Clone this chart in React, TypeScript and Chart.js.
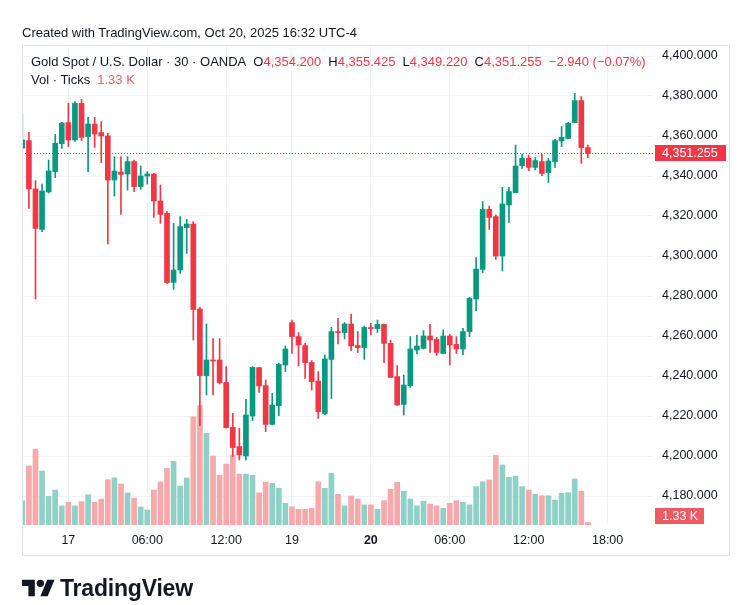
import React, { useEffect, useRef } from 'react';
import { Chart, registerables } from 'chart.js';

Chart.register(...registerables);

// ---- data (30-minute candles, XAU/USD, OANDA) ----
const opens = [
  4354.0, 4357.7, 4333.5, 4313.3, 4332.0, 4342.2, 4356.2, 4366.7, 4358.0, 4376.3,
  4359.7, 4366.0, 4361.7, 4360.0, 4338.0, 4342.0, 4341.0, 4347.2, 4334.7, 4340.0,
  4341.0, 4327.5, 4321.3, 4286.8, 4293.0, 4314.2, 4316.0, 4273.5, 4240.2, 4248.0,
  4248.0, 4236.8, 4214.3, 4204.7, 4200.0, 4220.0, 4244.2, 4235.2, 4215.8, 4225.2,
  4245.5, 4266.7, 4259.7, 4255.2, 4246.8, 4237.5, 4221.3, 4248.3, 4262.2, 4261.7,
  4266.0, 4255.2, 4254.2, 4264.0, 4263.7, 4265.8, 4256.3, 4239.7, 4225.8, 4235.2,
  4253.0, 4253.8, 4260.0, 4258.3, 4251.3, 4260.0, 4255.8, 4253.5, 4262.2, 4278.5,
  4293.3, 4323.3, 4319.7, 4300.0, 4325.5, 4331.7, 4345.2, 4348.8, 4344.3, 4347.2,
  4341.7, 4347.2, 4357.5, 4358.8, 4366.7, 4377.7, 4354.2,
];
const highs = [
  4371.5, 4361.8, 4337.7, 4336.0, 4348.0, 4360.8, 4366.8, 4376.3, 4377.2, 4378.3,
  4369.3, 4369.3, 4367.2, 4361.3, 4349.7, 4349.7, 4349.7, 4348.0, 4345.0, 4342.2,
  4341.3, 4335.5, 4322.2, 4316.3, 4319.7, 4318.3, 4317.2, 4274.3, 4266.0, 4258.7,
  4258.7, 4244.7, 4221.3, 4213.8, 4228.3, 4244.7, 4244.3, 4238.0, 4231.3, 4246.3,
  4255.0, 4268.0, 4261.7, 4256.3, 4247.7, 4242.2, 4250.5, 4264.3, 4268.8, 4266.7,
  4271.0, 4262.2, 4265.0, 4266.3, 4268.0, 4266.0, 4258.0, 4245.2, 4240.5, 4259.7,
  4260.5, 4262.7, 4265.8, 4259.3, 4263.0, 4260.8, 4259.7, 4263.8, 4279.3, 4299.2,
  4327.2, 4325.0, 4320.5, 4334.3, 4334.3, 4355.5, 4351.0, 4350.5, 4349.2, 4351.0,
  4348.8, 4358.3, 4364.7, 4366.8, 4381.3, 4379.7, 4355.425,
];
const lows = [
  4353.5, 4323.8, 4278.5, 4312.2, 4331.5, 4339.2, 4353.8, 4354.7, 4357.3, 4357.7,
  4342.2, 4354.3, 4346.7, 4306.0, 4330.0, 4320.8, 4333.0, 4332.2, 4333.3, 4336.0,
  4319.3, 4316.3, 4286.3, 4283.3, 4291.3, 4301.3, 4258.0, 4215.2, 4230.5, 4230.5,
  4236.0, 4214.0, 4199.7, 4198.0, 4198.0, 4217.7, 4231.8, 4212.2, 4215.5, 4220.2,
  4242.2, 4251.3, 4245.0, 4238.8, 4233.0, 4218.8, 4220.5, 4228.8, 4256.0, 4258.5,
  4252.7, 4251.7, 4248.3, 4260.5, 4261.8, 4246.7, 4239.3, 4225.3, 4220.5, 4234.3,
  4251.0, 4253.5, 4251.8, 4250.2, 4251.3, 4245.5, 4251.3, 4250.5, 4259.7, 4272.7,
  4291.7, 4313.3, 4298.3, 4292.5, 4316.8, 4331.7, 4343.8, 4342.7, 4343.0, 4340.2,
  4336.8, 4344.3, 4354.7, 4358.5, 4366.7, 4346.3, 4349.22,
];
const closes = [
  4358.0, 4333.5, 4313.8, 4332.5, 4342.5, 4356.3, 4366.5, 4358.0, 4376.3, 4359.3,
  4366.0, 4361.0, 4360.0, 4338.0, 4342.5, 4340.8, 4347.2, 4334.7, 4340.0, 4341.0,
  4327.5, 4320.8, 4286.7, 4293.0, 4314.7, 4316.0, 4273.3, 4240.2, 4248.0, 4247.5,
  4236.7, 4214.2, 4204.2, 4200.5, 4220.5, 4244.3, 4235.0, 4215.8, 4225.5, 4245.8,
  4253.5, 4259.7, 4255.5, 4246.7, 4237.2, 4222.2, 4248.5, 4262.2, 4261.7, 4266.0,
  4255.0, 4254.2, 4264.3, 4263.7, 4265.8, 4256.3, 4239.3, 4225.5, 4235.5, 4253.5,
  4255.0, 4260.0, 4258.0, 4251.8, 4260.0, 4255.5, 4253.5, 4262.2, 4278.8, 4293.5,
  4323.3, 4319.3, 4300.0, 4326.0, 4332.2, 4345.0, 4348.8, 4344.3, 4347.7, 4341.3,
  4347.5, 4357.7, 4359.3, 4366.3, 4377.7, 4354.2, 4351.255,
];
// tick volume in thousands
const volumes = [
  12.0, 29.1, 37.3, 26.6, 14.1, 17.2, 9.4, 11.2, 9.4, 11.5,
  14.9, 11.2, 12.8, 22.3, 23.2, 20.2, 15.8, 13.3, 8.9, 7.4,
  17.2, 21.2, 27.9, 31.4, 19.2, 23.2, 53.3, 58.8, 45.2, 34.0,
  24.5, 30.0, 34.5, 25.1, 25.1, 24.5, 15.8, 21.2, 20.5, 18.1,
  10.7, 9.0, 7.7, 7.7, 8.2, 21.3, 18.1, 25.5, 15.1, 9.4,
  14.3, 12.8, 9.9, 9.9, 7.7, 12.0, 17.6, 21.0, 16.7, 12.8,
  9.4, 11.7, 10.3, 9.4, 8.2, 10.7, 12.0, 11.2, 9.9, 18.9,
  21.3, 22.2, 34.3, 29.6, 23.5, 24.1, 18.9, 17.2, 15.1, 14.4,
  14.4, 12.3, 15.6, 15.9, 22.7, 16.7, 1.33,
];
const xTickIndex = [7, 19, 31, 41, 53, 65, 77, 89];
const xTickLabels = ['17', '06:00', '12:00', '19', '20', '06:00', '12:00', '18:00'];
const boldTickLabel = '20';
const priceTicks = [4180, 4200, 4220, 4240, 4260, 4280, 4300, 4320, 4340, 4360, 4380, 4400];
const lastPrice = 4351.255;
const lastVolumeText = '1.33 K';

const FONT = '"Liberation Sans", Arial, sans-serif';
const TEXT = '#131722';
const UP = '#089981';
const DOWN = '#f23645';
const GRID = '#f0f3fa';

const fmtPrice = (v: number) => {
  const [i, d] = v.toFixed(3).split('.');
  return i.replace(/\B(?=(\d{3})+(?!\d))/g, ',') + '.' + d;
};

export default function App() {
  const ref = useRef<HTMLCanvasElement>(null);

  useEffect(() => {
    if (!ref.current) return;
    const isUp = opens.map((o, i) => closes[i] >= o);
    const candleColors = isUp.map((u) => (u ? UP : DOWN));
    const volColors = isUp.map((u) => (u ? '#8fd1c7' : '#f7a8aa'));

    const overlay = {
      id: 'overlay',
      afterDatasetsDraw(chart: any) {
        const { ctx, chartArea } = chart;
        const y = Math.round(chart.scales.y.getPixelForValue(lastPrice)) + 0.5;
        ctx.save();
        ctx.strokeStyle = DOWN;
        ctx.lineWidth = 1;
        ctx.setLineDash([1, 2]);
        ctx.beginPath();
        ctx.moveTo(chartArea.left, y);
        ctx.lineTo(chartArea.right, y);
        ctx.stroke();
        ctx.restore();
      },
      afterDraw(chart: any) {
        const { ctx, chartArea } = chart;
        ctx.save();
        // frame
        ctx.strokeStyle = '#e0e3eb';
        ctx.lineWidth = 1;
        ctx.strokeRect(22.5, 45.5, 707, 510);
        // price label
        const y = chart.scales.y.getPixelForValue(lastPrice);
        ctx.fillStyle = DOWN;
        ctx.fillRect(chartArea.right + 2, Math.round(y) - 8, 71, 16);
        ctx.fillStyle = '#ffffff';
        ctx.font = `12.5px ${FONT}`;
        ctx.textBaseline = 'middle';
        ctx.textAlign = 'left';
        ctx.fillText(fmtPrice(lastPrice), chartArea.right + 9, Math.round(y) + 0.5);
        // volume label
        const vb = chartArea.bottom - 1;
        ctx.fillStyle = '#ef5a62';
        ctx.fillRect(chartArea.right + 2, vb - 16, 49, 16);
        ctx.fillStyle = '#ffffff';
        ctx.fillText(lastVolumeText, chartArea.right + 9, vb - 7.5);
        ctx.restore();
      },
    };

    const chart = new Chart(ref.current, {
      type: 'bar',
      data: {
        datasets: [
          {
            label: 'Volume',
            data: volumes.map((v, i) => ({ x: i, y: v })),
            backgroundColor: volColors,
            yAxisID: 'yv',
            barThickness: 5,
            grouped: false,
            order: 3,
          } as any,
          {
            label: 'Wicks',
            data: lows.map((l, i) => ({ x: i, y: [l, highs[i]] })),
            backgroundColor: candleColors,
            yAxisID: 'y',
            barThickness: 1,
            grouped: false,
            order: 2,
          } as any,
          {
            label: 'Bodies',
            data: opens.map((o, i) => ({ x: i, y: [o, closes[i]] })),
            backgroundColor: candleColors,
            yAxisID: 'y',
            barThickness: 5,
            minBarLength: 1,
            grouped: false,
            order: 1,
          } as any,
        ],
      },
      options: {
        animation: false,
        responsive: false,
        events: [],
        layout: { padding: { left: 22, top: 45, right: 12, bottom: 50 } },
        plugins: { legend: { display: false }, tooltip: { enabled: false } },
        scales: {
          x: {
            type: 'linear',
            min: -0.05,
            max: 95.9,
            offset: false,
            grid: { offset: false, color: GRID, drawTicks: false },
            border: { display: false },
            afterBuildTicks: (s: any) => {
              s.ticks = xTickIndex.map((v) => ({ value: v }));
            },
            afterFit: (s: any) => {
              s.height = 30;
            },
            ticks: {
              autoSkip: false,
              maxRotation: 0,
              padding: 8,
              color: TEXT,
              font: (c: any) => ({
                family: FONT,
                size: 12.5,
                weight: xTickLabels[xTickIndex.indexOf(c.tick?.value)] === boldTickLabel ? 'bold' : 'normal',
              }),
              callback: (v: any) => xTickLabels[xTickIndex.indexOf(Number(v))] ?? '',
            },
          },
          y: {
            type: 'linear',
            position: 'right',
            min: 4165.5,
            max: 4405.5,
            beginAtZero: false,
            grid: { color: GRID, drawTicks: false },
            border: { display: false },
            afterBuildTicks: (s: any) => {
              s.ticks = priceTicks.map((v) => ({ value: v }));
            },
            afterFit: (s: any) => {
              s.width = 76;
            },
            ticks: {
              padding: 9,
              color: TEXT,
              font: { family: FONT, size: 12.5 },
              callback: (v: any) => fmtPrice(Number(v)),
            },
          },
          yv: {
            type: 'linear',
            display: false,
            min: 0,
            max: 236.5,
          },
        },
      } as any,
      plugins: [overlay],
    });
    return () => chart.destroy();
  }, []);

  const red = { color: DOWN };
  return (
    <div
      style={{
        position: 'absolute',
        left: 0,
        top: 0,
        width: 741,
        height: 605,
        background: '#ffffff',
        fontFamily: FONT,
        color: TEXT,
        overflow: 'hidden',
      }}
    >
      <canvas ref={ref} width={741} height={605} style={{ position: 'absolute', left: 0, top: 0 }} />
      <div style={{ position: 'absolute', left: 22, top: 25, fontSize: 13, lineHeight: '16px', whiteSpace: 'nowrap' }}>
        Created with TradingView.com, Oct 20, 2025 16:32 UTC-4
      </div>
      <div style={{ position: 'absolute', left: 31, top: 54, fontSize: 13, lineHeight: '16px', whiteSpace: 'nowrap' }}>
        <span>Gold Spot / U.S. Dollar · 30 · OANDA</span>
        <span style={{ marginLeft: 7 }}>O</span>
        <span style={red}>4,354.200</span>
        <span style={{ marginLeft: 7 }}>H</span>
        <span style={red}>4,355.425</span>
        <span style={{ marginLeft: 7 }}>L</span>
        <span style={red}>4,349.220</span>
        <span style={{ marginLeft: 7 }}>C</span>
        <span style={red}>4,351.255</span>
        <span style={{ ...red, marginLeft: 7 }}>−2.940 (−0.07%)</span>
      </div>
      <div style={{ position: 'absolute', left: 31, top: 72, fontSize: 13, lineHeight: '16px', whiteSpace: 'nowrap' }}>
        <span>Vol · Ticks</span>
        <span style={{ color: '#f05d63', marginLeft: 7 }}>1.33 K</span>
      </div>
      <svg
        style={{ position: 'absolute', left: 22, top: 576 }}
        width={33}
        height={25.7}
        viewBox="0 0 36 28"
      >
        <path d="M14 22H7V11H0V4h14v18z" fill={TEXT} />
        <circle cx="20" cy="8" r="4" fill={TEXT} />
        <path d="M28 22h-8l7.5-18h8L28 22z" fill={TEXT} />
      </svg>
      <div
        style={{
          position: 'absolute',
          left: 60,
          top: 575,
          fontSize: 23,
          lineHeight: '26px',
          fontWeight: 'bold',
          whiteSpace: 'nowrap',
          letterSpacing: -0.2,
        }}
      >
        TradingView
      </div>
    </div>
  );
}
